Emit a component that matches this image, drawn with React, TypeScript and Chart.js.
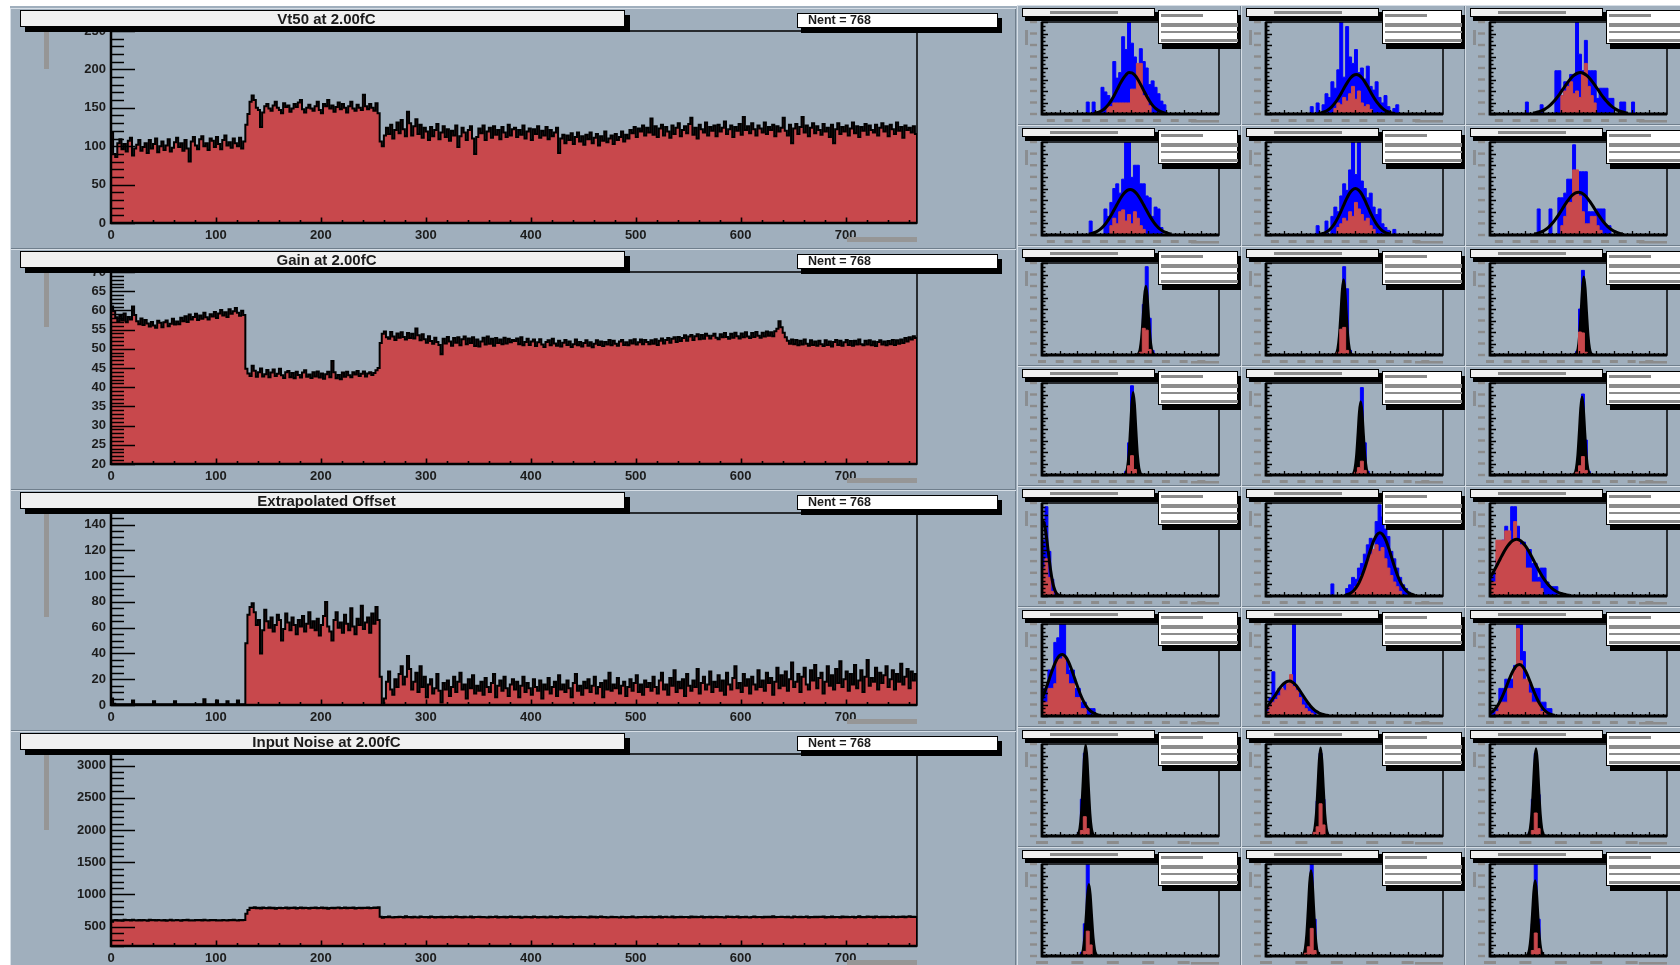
import React, { useEffect, useRef } from "react";
import { Chart, registerables } from "chart.js";

Chart.register(...registerables);

// ---------------- colours / fonts ----------------
const PAD_BG = "#A0AFBD";
const HIST_RED = "#C8484C";
const HIST_BLUE = "#0000FF";
const BLOB_GREY = "#8C8C8C";
const TITLE_GREY = "#969696";
const FONT = '"Liberation Sans", Arial, Helvetica, sans-serif';

// ---------------- big panels (768 channels, 2 channels per bin) ----------------
const CHANNELS_PER_BIN = 2;
const N_CHANNELS = 768;
const bigXTickLabels = [0, 100, 200, 300, 400, 500, 600, 700];
const bigTitles = ["Vt50 at 2.00fC", "Gain at 2.00fC", "Extrapolated Offset", "Input Noise at 2.00fC"];
const nentLabel = "Nent = 768";

const vt50Values = [
  118, 90, 86, 104, 109, 96, 103, 93, 107, 111, 88, 97, 102, 108, 94, 99, 104, 91, 108, 97, 103, 110, 92, 100, 106, 95, 101, 109, 93, 98, 105, 111,
  99, 104, 94, 108, 97, 80, 106, 112, 101, 96, 109, 113, 100, 104, 95, 110, 107, 99, 112, 103, 96, 108, 114, 101, 105, 98, 110, 104, 100, 111, 97, 106,
  128, 142, 158, 166, 160, 150, 147, 125, 144, 152, 155, 149, 146, 153, 158, 150, 147, 143, 156, 151, 153, 145, 149, 155, 151, 157, 160, 148, 144, 150, 154, 149,
  146, 152, 158, 147, 143, 155, 152, 160, 149, 153, 145, 151, 157, 148, 155, 150, 144, 152, 158, 149, 146, 154, 150, 147, 167, 152, 148, 155, 150, 146, 156, 143,
  106, 100, 114, 124, 116, 128, 110, 121, 131, 117, 134, 122, 113, 145, 130, 114, 126, 135, 116, 128, 111, 124, 119, 108, 125, 113, 121, 129, 109, 118, 126, 112,
  122, 107, 120, 114, 127, 99, 113, 124, 118, 108, 121, 126, 110, 90, 112, 123, 117, 127, 108, 119, 124, 111, 126, 115, 121, 109, 125, 118, 112, 128, 114, 122,
  124, 112, 121, 115, 127, 110, 119, 123, 108, 122, 116, 126, 111, 120, 114, 125, 109, 121, 113, 118, 124, 91, 110, 115, 104, 114, 108, 117, 103, 112, 118, 106,
  113, 102, 115, 109, 118, 104, 111, 116, 101, 113, 107, 119, 105, 110, 114, 103, 116, 108, 112, 119, 106, 115, 110, 121, 117, 125, 112, 123, 119, 127, 114, 124,
  118, 136, 115, 126, 112, 123, 128, 114, 125, 119, 111, 127, 116, 124, 130, 113, 121, 126, 117, 129, 137, 115, 124, 110, 128, 122, 118, 131, 114, 125, 120, 127,
  113, 128, 119, 124, 132, 116, 122, 127, 112, 125, 120, 129, 115, 138, 121, 126, 117, 130, 122, 114, 127, 123, 118, 131, 116, 125, 121, 128, 113, 126, 119, 124,
  137, 120, 114, 128, 104, 123, 129, 116, 125, 138, 118, 127, 113, 124, 130, 117, 126, 121, 115, 129, 119, 124, 112, 128, 104, 122, 130, 116, 125, 119, 127, 114,
  123, 131, 117, 126, 112, 125, 120, 129, 115, 127, 121, 118, 128, 114, 124, 130, 119, 126, 113, 128, 122, 116, 131, 120, 125, 111, 127, 121, 124, 118, 126, 116,
];
const gainValues = [
  61, 59.8, 58.2, 57.1, 58.6, 57.4, 59.2, 56.9, 58.3, 57.6, 61, 58.8, 57.2, 56.4, 57.9, 56.2, 57.5, 56.6, 55.8, 57.0, 56.1, 55.5, 57.3, 56.8, 55.6, 56.9, 57.4, 55.9, 56.5, 57.8, 56.3, 57.1,
  56.4, 58.1, 57.2, 58.5, 57.0, 58.9, 57.6, 58.3, 59.1, 57.5, 58.7, 57.8, 59.4, 58.2, 57.6, 59.0, 58.4, 59.6, 58.0, 59.2, 60.1, 58.7, 59.5, 58.3, 60.3, 59.1, 59.8, 60.6, 59.4, 58.6, 59.9, 58.8,
  44.8, 43.6, 42.9, 45.6, 44.3, 42.7, 43.9, 44.9, 42.8, 43.4, 44.5, 42.6, 43.8, 44.6, 42.9, 43.5, 44.8, 43.1, 42.4, 43.9, 44.2, 42.6, 43.7, 42.3, 44.0, 43.2, 42.5, 43.8, 44.4, 42.7, 43.3, 42.4,
  43.9, 42.8, 44.1, 42.5, 43.6, 42.2, 43.4, 44.0, 42.6, 46.8, 43.9, 42.3, 43.2, 42.1, 43.8, 42.7, 44.0, 43.1, 42.6, 43.9, 43.3, 44.2, 42.9, 43.5, 44.1, 42.8, 43.6, 43.9, 43.2, 43.7, 44.4, 45.0,
  51.5, 53.9, 54.5, 53.0, 52.6, 54.4, 53.2, 52.3, 54.0, 52.9, 54.3, 53.1, 52.4, 54.1, 52.8, 53.9, 52.7, 55.3, 53.5, 52.2, 53.8, 52.5, 51.6, 53.3, 52.0, 51.3, 52.9, 51.8, 51.0, 48.6, 52.6, 51.4,
  53.1, 51.9, 50.8, 52.8, 51.6, 53.0, 50.9, 52.5, 53.2, 51.2, 52.7, 51.5, 53.0, 50.7, 52.4, 50.6, 51.9, 52.9, 51.1, 53.2, 51.3, 52.6, 50.8, 52.8, 51.5, 52.4, 51.2, 52.9, 51.4, 52.6, 51.7, 52.3,
  52.0, 52.7, 51.2, 53.0, 50.9, 51.8, 52.6, 51.0, 51.9, 52.4, 50.7, 51.7, 52.5, 51.1, 50.5, 51.8, 52.2, 50.9, 52.6, 51.4, 50.8, 52.1, 50.6, 51.6, 52.3, 51.0, 51.9, 50.5, 51.2, 52.4, 50.9, 51.8,
  50.6, 51.5, 52.2, 50.8, 51.7, 50.4, 51.3, 52.2, 51.0, 51.9, 50.7, 51.8, 51.1, 52.3, 50.9, 52.1, 51.3, 50.8, 51.9, 52.3, 51.0, 51.7, 50.9, 52.2, 51.4, 52.5, 51.1, 51.7, 52.4, 51.2, 52.3, 51.8,
  51.2, 52.2, 51.3, 52.5, 51.0, 52.1, 52.7, 51.4, 52.3, 52.8, 51.6, 52.6, 53.0, 51.8, 53.1, 52.0, 52.8, 53.5, 52.1, 53.2, 53.6, 52.3, 53.3, 53.8, 52.5, 53.6, 52.6, 53.9, 53.4, 52.7, 53.4, 53.9,
  52.9, 52.5, 53.8, 53.0, 54.1, 53.1, 52.6, 53.9, 52.9, 54.2, 53.3, 52.7, 54.0, 53.0, 54.3, 53.2, 52.8, 54.1, 53.1, 54.4, 53.4, 52.9, 54.2, 53.2, 54.5, 53.4, 54.3, 53.3, 54.6, 55.2, 57.2, 55.6,
  54.2, 53.0, 52.1, 51.3, 52.4, 51.2, 52.3, 50.9, 52.1, 51.1, 52.4, 51.3, 50.8, 52.2, 51.0, 51.9, 50.8, 52.1, 51.2, 50.7, 52.2, 51.0, 51.9, 50.6, 51.8, 52.3, 51.0, 52.1, 50.8, 51.7, 52.3, 51.0,
  52.0, 50.8, 52.1, 51.1, 52.4, 51.2, 50.9, 52.1, 51.1, 52.2, 50.9, 51.9, 50.7, 51.8, 52.2, 51.1, 51.9, 50.9, 52.0, 51.2, 52.3, 51.0, 52.2, 51.3, 52.4, 51.5, 52.8, 51.9, 53.0, 52.4, 53.3, 52.8,
];
const offsetValues = [
  5, 1, 0.5, 0.5, 0.5, 0.5, 0.5, 0.5, 0.5, 0.5, 3.5, 0.5, 0.5, 0.5, 0.5, 0.5, 0.5, 0.5, 0.5, 0.5, 3, 0.5, 0.5, 0.5, 0.5, 0.5, 0.5, 0.5, 0.5, 0.5, 3, 0.5,
  0.5, 0.5, 0.5, 0.5, 0.5, 0.5, 0.5, 0.5, 0.5, 0.5, 0.5, 0.5, 4.5, 0.5, 0.5, 0.5, 0.5, 0.5, 3.5, 0.5, 0.5, 0.5, 0.5, 3, 0.5, 0.5, 0.5, 0.5, 3.5, 0.5, 0.5, 0.5,
  48, 70, 76, 79, 72, 62, 66, 40, 58, 74, 65, 60, 68, 57, 62, 70, 66, 50, 59, 71, 64, 58, 68, 62, 55, 66, 61, 69, 57, 63, 72, 60,
  65, 58, 67, 54, 62, 69, 80, 61, 57, 50, 66, 72, 60, 64, 56, 70, 63, 58, 75, 61, 55, 67, 62, 77, 59, 64, 68, 56, 71, 63, 76, 66,
  22, 0, 5, 18, 26, 12, 8, 20, 14, 24, 30, 16, 22, 38, 28, 12, 18, 25, 10, 30, 14, 22, 6, 16, 20, 9, 13, 24, 11, 2, 17, 12,
  19, 7, 14, 22, 10, 18, 25, 12, 16, 5, 20, 13, 23, 9, 15, 11, 18, 8, 21, 14, 10, 17, 24, 6, 15, 19, 11, 22, 13, 7, 16, 20,
  12, 18, 6, 15, 22, 10, 17, 13, 8, 20, 14, 11, 19, 5, 16, 12, 21, 9, 14, 18, 7, 23, 12, 16, 10, 19, 13, 6, 17, 24, 11, 15,
  8, 18, 13, 20, 10, 15, 22, 9, 14, 17, 6, 19, 12, 25, 11, 16, 13, 21, 9, 15, 18, 7, 14, 20, 11, 17, 23, 10, 16, 8, 19, 14,
  17, 11, 22, 14, 9, 19, 25, 12, 16, 8, 21, 15, 27, 10, 18, 13, 20, 7, 24, 15, 11, 19, 14, 28, 9, 17, 22, 12, 16, 26, 10, 18,
  14, 23, 11, 19, 8, 25, 16, 12, 21, 30, 13, 17, 10, 24, 15, 20, 9, 22, 16, 12, 27, 14, 19, 11, 25, 17, 21, 8, 18, 29, 13, 23,
  15, 26, 11, 20, 33, 14, 18, 24, 10, 22, 29, 16, 12, 27, 19, 31, 13, 21, 25, 9, 18, 30, 15, 23, 12, 28, 17, 34, 14, 20, 26, 11,
  24, 16, 31, 13, 19, 27, 10, 22, 35, 15, 21, 18, 29, 12, 25, 17, 23, 30, 14, 20, 27, 12, 24, 18, 32, 16, 22, 28, 13, 26, 19, 24,
];
const noiseValues = [
  575, 598, 604, 595, 601, 590, 606, 599, 603, 596, 608, 600, 594, 602, 597, 605, 600, 593, 607, 598, 602, 595, 604, 599, 596, 603, 590, 601, 606, 597, 600, 604,
  598, 592, 603, 600, 607, 596, 601, 594, 605, 599, 602, 596, 608, 600, 597, 603, 599, 605, 594, 601, 597, 604, 600, 596, 603, 598, 606, 601, 595, 602, 599, 604,
  700, 760, 795, 788, 800, 785, 792, 781, 796, 789, 784, 798, 787, 793, 780, 791, 795, 786, 790, 799, 783, 792, 788, 796, 782, 790, 797, 785, 793, 788, 781, 794,
  789, 796, 784, 791, 798, 786, 793, 780, 790, 795, 787, 792, 799, 784, 790, 796, 785, 793, 788, 797, 782, 791, 795, 786, 792, 789, 798, 784, 791, 796, 788, 800,
  655, 640, 652, 646, 658, 648, 643, 651, 645, 654, 649, 642, 660, 647, 652, 644, 653, 648, 641, 656, 650, 645, 651, 644, 659, 649, 643, 652, 646, 655, 641, 650,
  647, 654, 644, 651, 657, 646, 650, 642, 653, 648, 645, 656, 643, 651, 649, 654, 645, 652, 648, 641, 655, 647, 650, 658, 644, 651, 646, 653, 642, 649, 656, 648,
  651, 645, 653, 640, 648, 655, 646, 650, 643, 657, 649, 644, 652, 647, 654, 641, 648, 656, 645, 651, 643, 650, 658, 646, 652, 644, 649, 655, 642, 650, 647, 653,
  645, 651, 648, 642, 656, 647, 653, 644, 650, 659, 646, 651, 643, 648, 654, 645, 652, 647, 641, 655, 649, 644, 651, 646, 657, 648, 643, 652, 645, 650, 654, 647,
  649, 654, 643, 651, 646, 658, 644, 650, 653, 645, 648, 656, 642, 651, 647, 655, 646, 652, 649, 641, 657, 648, 653, 645, 650, 659, 644, 651, 647, 654, 643, 650,
  655, 646, 651, 648, 642, 657, 649, 653, 645, 650, 656, 643, 652, 647, 654, 648, 644, 651, 658, 646, 652, 649, 643, 655, 648, 653, 645, 660, 647, 651, 649, 654,
  652, 646, 655, 648, 643, 657, 650, 645, 654, 647, 651, 659, 644, 652, 648, 655, 646, 653, 649, 656, 643, 651, 647, 658, 645, 652, 650, 644, 657, 648, 653, 646,
  651, 655, 644, 650, 661, 647, 652, 645, 656, 649, 653, 643, 658, 650, 646, 654, 648, 655, 651, 645, 659, 650, 647, 654, 652, 657, 646, 653, 660, 649, 655, 651,
];

const vt50YTicks = [0, 50, 100, 150, 200, 250];
const gainYTicks = [20, 25, 30, 35, 40, 45, 50, 55, 60, 65, 70];
const offsetYTicks = [0, 20, 40, 60, 80, 100, 120, 140];
const noiseYTicks = [500, 1000, 1500, 2000, 2500, 3000];

const bigPanels = [
  { title: bigTitles[0], values: vt50Values, yMin: 0, yMax: 250, yTicks: vt50YTicks, yMajor: 50, yMinor: 10, yTitleLen: 38 },
  { title: bigTitles[1], values: gainValues, yMin: 20, yMax: 70, yTicks: gainYTicks, yMajor: 5, yMinor: 1, yTitleLen: 55 },
  { title: bigTitles[2], values: offsetValues, yMin: 0, yMax: 149, yTicks: offsetYTicks, yMajor: 20, yMinor: 5, yTitleLen: 104 },
  { title: bigTitles[3], values: noiseValues, yMin: 200, yMax: 3180, yTicks: noiseYTicks, yMajor: 500, yMinor: 100, yTitleLen: 76 },
];

// ---------------- small panels (60 bins, 0..100 height units) ----------------
const SMALL_BINS = 60;
// row 0
const r0c0Blue = [13, 0, 13, 0, 0, 29, 24, 20, 16, 57, 39, 45, 84, 70, 100, 77, 62, 52, 71, 57, 50, 32, 36, 29, 22, 14, 10];
const r0c0Red = [8, 8, 12, 12, 12, 12, 12, 12, 27, 27, 55, 55, 20, 20, 9];
const r0c0Fit = [0.7, 1.3, 2.4, 4.1, 6.7, 10.2, 14.8, 20.4, 26.7, 33, 38.5, 42.7, 45, 44.6, 42, 37.5, 31.7, 25.4, 19.3, 13.9, 9.4, 6.1, 3.7, 2.2, 1.2, 0.6];
const r0c1Blue = [8, 0, 12, 0, 10, 22, 18, 35, 28, 48, 100, 40, 95, 62, 55, 70, 45, 50, 38, 52, 30, 26, 35, 18, 12, 20, 8, 0, 6, 10];
const r0c1Red = [6, 12, 10, 18, 14, 22, 30, 16, 25, 12, 8, 10, 5];
const r0c1Fit = [0.6, 1.2, 2.2, 3.6, 5.8, 8.9, 12.8, 17.7, 23.2, 29, 34.4, 39, 42, 43, 42, 39, 34.4, 29, 23.2, 17.7, 12.8, 8.9, 5.8, 3.6, 2.2, 1.2, 0.6];
const r0c2Blue = [13, 0, 0, 0, 0, 10, 0, 0, 0, 0, 47, 47, 20, 35, 35, 43, 43, 100, 65, 47, 80, 47, 47, 47, 17, 28, 28, 28, 17, 17, 0, 0, 13, 13, 0, 0, 13];
const r0c2Red = [20, 25, 30, 35, 22, 25, 18, 45, 55, 30, 20, 12];
const r0c2Fit = [1.0, 1.6, 2.4, 3.6, 5.3, 7.5, 10.2, 13.5, 17.4, 21.7, 26.4, 31.1, 35.5, 39.4, 42.4, 44.3, 45, 44.3, 42.4, 39.4, 35.5, 31.1, 26.4, 21.7, 17.4, 13.5, 10.2, 7.5, 5.3, 3.6, 2.4, 1.6, 1.0];
// row 1
const r1c0Blue = [15, 0, 0, 0, 0, 28, 20, 35, 50, 55, 45, 60, 100, 100, 62, 75, 75, 55, 55, 42, 40, 20, 30, 28, 8];
const r1c0Red = [10, 18, 12, 25, 27, 15, 22, 12, 25, 18, 10, 6];
const r1c0Fit = [1.0, 1.7, 2.7, 4.4, 6.6, 9.7, 13.6, 18.4, 23.9, 29.7, 35.6, 40.9, 45.2, 48.0, 49, 48.0, 45.2, 40.9, 35.6, 29.7, 23.9, 18.4, 13.6, 9.7, 6.6, 4.4, 2.7, 1.7, 1.0];
const r1c1Blue = [10, 0, 0, 15, 0, 20, 30, 25, 42, 55, 48, 70, 100, 65, 100, 58, 50, 40, 45, 30, 22, 28, 12, 8, 5, 0, 6];
const r1c1Red = [8, 12, 18, 15, 25, 20, 35, 28, 22, 15, 18, 10, 6];
const r1c1Fit = [0.9, 1.6, 3.0, 5.0, 8.2, 12.5, 18.1, 24.7, 31.8, 38.8, 44.7, 48.6, 50, 48.6, 44.7, 38.8, 31.8, 24.7, 18.1, 12.5, 8.2, 5.0, 3.0, 1.6, 0.9];
const r1c2Blue = [28, 0, 0, 0, 28, 0, 0, 40, 40, 45, 60, 60, 97, 60, 68, 68, 68, 25, 25, 25, 28, 28, 28, 10, 10];
const r1c2Red = [10, 20, 35, 35, 70, 70, 42, 25, 12, 12, 20, 20, 10, 5];
const r1c2Fit = [1.1, 1.8, 2.8, 4.2, 6.2, 8.8, 12.1, 16.0, 20.5, 25.4, 30.5, 35.3, 39.7, 43.1, 45.3, 46, 45.3, 43.1, 39.7, 35.3, 30.5, 25.4, 20.5, 16.0, 12.1, 8.8, 6.2, 4.2, 2.8, 1.8, 1.1];
// row 2
const r2c0Blue = [4, 55, 96, 40, 5];
const r2c0Red = [3, 29, 27, 6];
const r2c0Fit = [0, 0.3, 1.6, 6.4, 18.7, 40.4, 64.3, 75, 64.3, 40.4, 18.7, 6.4, 1.6, 0.3, 0];
const r2c1Blue = [4, 30, 96, 72, 5];
const r2c1Red = [3, 28, 30, 5];
const r2c1Fit = [0, 0.3, 1.7, 7, 20.4, 44.2, 70.3, 82, 70.3, 44.2, 20.4, 7, 1.7, 0.3, 0];
const r2c2Blue = [4, 50, 92, 35, 4];
const r2c2Red = [25, 24, 3];
const r2c2Fit = [0, 0.3, 1.8, 7.2, 21.2, 45.8, 72.8, 85, 72.8, 45.8, 21.2, 7.2, 1.8, 0.3, 0];
// row 3
const r3c0Blue = [4, 35, 97, 40, 4];
const r3c0Red = [10, 21, 6];
const r3c0Fit = [0, 0.4, 1.9, 7.7, 22.4, 48.5, 77.1, 90, 77.1, 48.5, 22.4, 7.7, 1.9, 0.4, 0];
const r3c1Blue = [4, 38, 95, 35, 4];
const r3c1Red = [3, 8, 15, 5];
const r3c1Fit = [0, 0.3, 1.7, 6.8, 19.9, 43.1, 68.6, 80, 68.6, 43.1, 19.9, 6.8, 1.7, 0.3, 0];
const r3c2Blue = [4, 35, 88, 38, 4];
const r3c2Red = [3, 10, 20, 5];
const r3c2Fit = [0, 0.3, 1.8, 7.2, 21.2, 45.8, 72.8, 85, 72.8, 45.8, 21.2, 7.2, 1.8, 0.3, 0];
// row 4
const r4c0Blue = [60, 96, 48, 18, 4];
const r4c0Red = [30, 40, 20, 5];
const r4c0Fit = [79, 80, 74, 64, 51, 38, 26, 16.5, 9.7, 5.3, 2.6, 1.2, 0.6, 0.2, 0.1];
const r4c1Blue = [13, 0, 0, 0, 0, 8, 12, 20, 18, 30, 35, 45, 55, 62, 50, 80, 98, 85, 72, 64, 48, 40, 30, 20, 12, 8, 4];
const r4c1Red = [5, 10, 15, 22, 30, 38, 45, 50, 55, 48, 52, 40, 30, 22, 15, 10, 5];
const r4c1Fit = [0.7, 1.6, 3.0, 5.4, 9.2, 14.7, 22.1, 31.1, 41.3, 51.3, 60.0, 65.9, 68, 65.9, 60.0, 51.3, 41.3, 31.1, 22.1, 14.7, 9.2, 5.4, 3.0, 1.6, 0.7];
const r4c2Blue = [20, 25, 40, 55, 60, 75, 62, 96, 96, 75, 58, 58, 50, 50, 35, 35, 20, 30, 30, 15, 10, 10, 10];
const r4c2Red = [15, 15, 60, 60, 60, 70, 70, 60, 80, 60, 55, 55, 30, 30, 15, 15, 15, 8];
const r4c2Fit = [19.8, 25.1, 30.9, 37.0, 43.1, 48.9, 53.8, 57.7, 60.1, 61, 60.1, 57.7, 53.8, 48.9, 43.1, 37.0, 30.9, 25.1, 19.8, 15.2, 11.3, 8.2, 5.9, 4.0, 2.7, 1.8, 1.1, 0.7];
// row 5
const r5c0Blue = [30, 30, 50, 50, 80, 85, 100, 100, 60, 50, 50, 30, 30, 15, 15, 8, 8, 8];
const r5c0Red = [15, 15, 30, 30, 35, 62, 62, 65, 45, 35, 35, 20, 20, 8, 8];
const r5c0Fit = [19.2, 27, 35.9, 45.4, 54.2, 61.4, 65.8, 66.9, 64.4, 58.8, 50.8, 41.6, 32.3, 23.7, 16.5, 10.9, 6.8, 4.0, 2.3, 1.2, 0.6];
const r5c1Blue = [10, 20, 48, 25, 30, 22, 35, 28, 40, 100, 30, 25, 20, 15, 10, 8, 5];
const r5c1Red = [5, 12, 15, 18, 22, 30, 28, 35, 45, 32, 28, 20, 12, 8, 5, 3];
const r5c1Fit = [9.0, 12.7, 17.2, 22.0, 27.0, 31.6, 35.2, 37.4, 38, 36.7, 33.9, 29.8, 25.0, 20.1, 15.3, 11.2, 7.7, 5.1, 3.2, 1.9, 1.1, 0.6];
const r5c2Blue = [5, 5, 8, 30, 30, 40, 40, 40, 55, 100, 100, 70, 35, 35, 30, 30, 30, 15, 15, 8, 8];
const r5c2Red = [5, 15, 15, 15, 30, 30, 50, 95, 60, 40, 40, 25, 15, 15, 15, 5, 5];
const r5c2Fit = [3.0, 5.3, 8.7, 13.6, 19.9, 27.4, 35.6, 43.6, 50.3, 54.7, 56, 54.0, 49.1, 42.1, 33.9, 25.8, 18.5, 12.5, 8.0, 4.8, 2.7, 1.4, 0.7];
// row 6
const r6c0Blue = [4, 40, 90, 50, 4];
const r6c0Red = [6, 21, 8];
const r6c0Fit = [0, 0.4, 2.1, 8.4, 24.7, 53.4, 84.8, 99, 84.8, 53.4, 24.7, 8.4, 2.1, 0.4, 0];
const r6c1Blue = [4, 38, 90, 40, 4];
const r6c1Red = [4, 10, 35, 12];
const r6c1Fit = [0, 0.4, 2, 8.2, 23.9, 51.7, 82.3, 96, 82.3, 51.7, 23.9, 8.2, 2, 0.4, 0];
const r6c2Blue = [4, 40, 90, 45, 4];
const r6c2Red = [6, 25, 8];
const r6c2Fit = [0, 0.4, 2, 8.1, 23.7, 51.2, 81.4, 95, 81.4, 51.2, 23.7, 8.1, 2, 0.4, 0];
// row 7
const r7c0Blue = [4, 35, 100, 45, 4];
const r7c0Red = [5, 27, 12];
const r7c0Fit = [0, 0.3, 1.6, 6.6, 19.4, 42, 66.8, 78, 66.8, 42, 19.4, 6.6, 1.6, 0.3, 0];
const r7c1Blue = [4, 35, 100, 40, 4];
const r7c1Red = [3, 10, 30, 6];
const r7c1Fit = [0, 0.4, 2, 7.9, 23.2, 50.1, 79.7, 93, 79.7, 50.1, 23.2, 7.9, 2, 0.4, 0];
const r7c2Blue = [4, 35, 100, 40, 4];
const r7c2Red = [6, 25, 8];
const r7c2Fit = [0, 0.3, 1.7, 7, 20.4, 44.2, 70.3, 82, 70.3, 44.2, 20.4, 7, 1.7, 0.3, 0];

// first-bin offsets for each small histogram, fit sampling start / step, narrow-peak flag
const smallPanels = [
  { blue: r0c0Blue, blueStart: 15, red: r0c0Red, redStart: 22, fit: r0c0Fit, fitStart: 17.5, fitStep: 1, narrow: false },
  { blue: r0c1Blue, blueStart: 15, red: r0c1Red, redStart: 23, fit: r0c1Fit, fitStart: 17.6, fitStep: 1, narrow: false },
  { blue: r0c2Blue, blueStart: 12, red: r0c2Red, redStart: 24, fit: r0c2Fit, fitStart: 14.6, fitStep: 1, narrow: false },
  { blue: r1c0Blue, blueStart: 16, red: r1c0Red, redStart: 23, fit: r1c0Fit, fitStart: 15.9, fitStep: 1, narrow: false },
  { blue: r1c1Blue, blueStart: 17, red: r1c1Red, redStart: 24, fit: r1c1Fit, fitStart: 18.3, fitStep: 1, narrow: false },
  { blue: r1c2Blue, blueStart: 16, red: r1c2Red, redStart: 24, fit: r1c2Fit, fitStart: 15, fitStep: 1, narrow: false },
  { blue: r2c0Blue, blueStart: 33, red: r2c0Red, redStart: 33, fit: r2c0Fit, fitStart: 31.7, fitStep: 0.5, narrow: true },
  { blue: r2c1Blue, blueStart: 24, red: r2c1Red, redStart: 24, fit: r2c1Fit, fitStart: 22.8, fitStep: 0.5, narrow: true },
  { blue: r2c2Blue, blueStart: 29, red: r2c2Red, redStart: 30, fit: r2c2Fit, fitStart: 28.3, fitStep: 0.5, narrow: true },
  { blue: r3c0Blue, blueStart: 28, red: r3c0Red, redStart: 29, fit: r3c0Fit, fitStart: 27.4, fitStep: 0.5, narrow: true },
  { blue: r3c1Blue, blueStart: 30, red: r3c1Red, redStart: 30, fit: r3c1Fit, fitStart: 28.6, fitStep: 0.5, narrow: true },
  { blue: r3c2Blue, blueStart: 29, red: r3c2Red, redStart: 29, fit: r3c2Fit, fitStart: 27.7, fitStep: 0.5, narrow: true },
  { blue: r4c0Blue, blueStart: 0, red: r4c0Red, redStart: 0, fit: r4c0Fit, fitStart: 0, fitStep: 0.5, narrow: false },
  { blue: r4c1Blue, blueStart: 22, red: r4c1Red, redStart: 29, fit: r4c1Fit, fitStart: 26.6, fitStep: 1, narrow: false },
  { blue: r4c2Blue, blueStart: 0, red: r4c2Red, redStart: 0, fit: r4c2Fit, fitStart: 0, fitStep: 1, narrow: false },
  { blue: r5c0Blue, blueStart: 0, red: r5c0Red, redStart: 0, fit: r5c0Fit, fitStart: 0, fitStep: 1, narrow: false },
  { blue: r5c1Blue, blueStart: 0, red: r5c1Red, redStart: 0, fit: r5c1Fit, fitStart: 0, fitStep: 1, narrow: false },
  { blue: r5c2Blue, blueStart: 0, red: r5c2Red, redStart: 2, fit: r5c2Fit, fitStart: 0, fitStep: 1, narrow: false },
  { blue: r6c0Blue, blueStart: 12, red: r6c0Red, redStart: 13, fit: r6c0Fit, fitStart: 11.3, fitStep: 0.5, narrow: true },
  { blue: r6c1Blue, blueStart: 16, red: r6c1Red, redStart: 16, fit: r6c1Fit, fitStart: 15, fitStep: 0.5, narrow: true },
  { blue: r6c2Blue, blueStart: 13, red: r6c2Red, redStart: 14, fit: r6c2Fit, fitStart: 12.1, fitStep: 0.5, narrow: true },
  { blue: r7c0Blue, blueStart: 13, red: r7c0Red, redStart: 14, fit: r7c0Fit, fitStart: 12.4, fitStep: 0.5, narrow: true },
  { blue: r7c1Blue, blueStart: 13, red: r7c1Red, redStart: 13, fit: r7c1Fit, fitStart: 11.75, fitStep: 0.5, narrow: true },
  { blue: r7c2Blue, blueStart: 13, red: r7c2Red, redStart: 14, fit: r7c2Fit, fitStart: 11.8, fitStep: 0.5, narrow: true },
];

// ---------------- helpers ----------------
function stepPoints(values: number[], start: number, width: number, base: number) {
  const pts: { x: number; y: number }[] = [{ x: start, y: base }];
  values.forEach((v, i) => pts.push({ x: start + i * width, y: v }));
  pts.push({ x: start + values.length * width, y: base });
  return pts;
}
function curvePoints(values: number[], start: number, step: number) {
  return values.map((v, i) => ({ x: start + i * step, y: v }));
}

const commonOptions = {
  animation: false,
  responsive: false,
  maintainAspectRatio: false,
  devicePixelRatio: 1,
  events: [],
  plugins: { legend: { display: false }, tooltip: { enabled: false }, title: { display: false } },
  elements: { point: { radius: 0 } },
};

function makeBigAxesPlugin(p: any) {
  return {
    id: "rootBigAxes",
    afterDraw(chart: any) {
      const { ctx, chartArea: a } = chart;
      const xs = chart.scales.x;
      const ys = chart.scales.y;
      ctx.save();
      ctx.strokeStyle = "#000";
      ctx.lineWidth = 1.6;
      ctx.beginPath();
      const first = Math.ceil(p.yMin / p.yMinor - 1e-9);
      const last = Math.floor(p.yMax / p.yMinor + 1e-9);
      for (let k = first; k <= last; k++) {
        const v = k * p.yMinor;
        const r = v / p.yMajor;
        const isMajor = Math.abs(r - Math.round(r)) < 1e-6;
        const py = Math.round(ys.getPixelForValue(v)) + 0.5;
        ctx.moveTo(a.left, py);
        ctx.lineTo(a.left + (isMajor ? 24 : 13), py);
      }
      for (let c = 20; c < N_CHANNELS; c += 20) {
        const px = Math.round(xs.getPixelForValue(c)) + 0.5;
        ctx.moveTo(px, a.bottom);
        ctx.lineTo(px, a.bottom - (c % 100 === 0 ? 5.5 : 3));
      }
      ctx.stroke();
      ctx.lineWidth = 1.5;
      ctx.strokeRect(a.left, a.top, a.right - a.left, a.bottom - a.top);
      ctx.lineWidth = 2.5;
      ctx.beginPath();
      ctx.moveTo(a.left, a.top);
      ctx.lineTo(a.left, a.bottom);
      ctx.lineTo(a.right, a.bottom);
      ctx.stroke();
      ctx.fillStyle = "#1c1c1c";
      ctx.font = `bold 13px ${FONT}`;
      ctx.textAlign = "right";
      ctx.textBaseline = "middle";
      p.yTicks.forEach((v: number) => ctx.fillText(String(v), a.left - 5, ys.getPixelForValue(v)));
      ctx.textAlign = "center";
      bigXTickLabels.forEach((v) => ctx.fillText(String(v), xs.getPixelForValue(v), a.bottom + 12.5));
      ctx.fillStyle = TITLE_GREY;
      ctx.fillRect(34, 23, 5, p.yTitleLen);
      ctx.fillRect(a.right - 70, a.bottom + 14, 70, 5);
      ctx.restore();
    },
  };
}

function makeSmallAxesPlugin(row: number) {
  return {
    id: "rootSmallAxes",
    afterDraw(chart: any) {
      const { ctx, chartArea: a } = chart;
      const xs = chart.scales.x;
      const ys = chart.scales.y;
      ctx.save();
      ctx.fillStyle = BLOB_GREY;
      for (let k = 0; k <= 8; k++) {
        const py = ys.getPixelForValue(k * 12.5);
        ctx.fillRect(a.left - 12, py - 1.2, 7, 2.4);
      }
      const lblStep = row >= 6 ? 12 : 6;
      const lblStart = row <= 1 ? 3 : 0;
      const lblW = row >= 6 ? 12 : 8;
      for (let b = lblStart; b < SMALL_BINS - 4; b += lblStep) {
        const px = xs.getPixelForValue(b);
        ctx.fillRect(px - lblW / 2, a.bottom + 5, lblW, 3);
      }
      ctx.fillRect(a.right - 28, a.bottom + 6, 28, 2.5);
      ctx.strokeStyle = "#000";
      ctx.lineWidth = 1.3;
      ctx.beginPath();
      for (let k = 0; k <= 24; k++) {
        const py = Math.round(ys.getPixelForValue((k * 100) / 24)) + 0.5;
        ctx.moveTo(a.left, py);
        ctx.lineTo(a.left + (k % 3 === 0 ? 6 : 3.5), py);
      }
      for (let k = 1; k < 40; k++) {
        const px = Math.round(xs.getPixelForValue(k * 1.5)) + 0.5;
        ctx.moveTo(px, a.bottom);
        ctx.lineTo(px, a.bottom - (k % 4 === 0 ? 4 : 2));
      }
      ctx.stroke();
      ctx.lineWidth = 1.5;
      ctx.strokeRect(a.left, a.top, a.right - a.left, a.bottom - a.top);
      ctx.lineWidth = 2.8;
      ctx.beginPath();
      ctx.moveTo(a.left, a.top);
      ctx.lineTo(a.left, a.bottom);
      ctx.lineTo(a.right, a.bottom);
      ctx.stroke();
      ctx.restore();
    },
  };
}

function buildBigConfig(p: any) {
  return {
    type: "line",
    data: {
      datasets: [
        {
          data: stepPoints(p.values, 0, CHANNELS_PER_BIN, p.yMin),
          stepped: true,
          fill: "start",
          backgroundColor: HIST_RED,
          borderColor: "#000",
          borderWidth: 2,
          borderJoinStyle: "miter",
          pointRadius: 0,
        },
      ],
    },
    options: {
      ...commonOptions,
      layout: { padding: { left: 101, right: 99, top: 23, bottom: 26 } },
      scales: {
        x: { type: "linear", display: false, min: 0, max: N_CHANNELS },
        y: { type: "linear", display: false, min: p.yMin, max: p.yMax },
      },
    },
    plugins: [makeBigAxesPlugin(p)],
  };
}

function buildSmallConfig(s: any, row: number) {
  const fitSet = {
    data: curvePoints(s.fit, s.fitStart, s.fitStep),
    borderColor: "#000",
    backgroundColor: "#000",
    borderWidth: s.narrow ? 2.5 : 3,
    fill: s.narrow ? "start" : false,
    cubicInterpolationMode: "monotone",
    pointRadius: 0,
  };
  const redSet = {
    data: stepPoints(s.red, s.redStart, 1, 0),
    stepped: true,
    fill: "start",
    backgroundColor: HIST_RED,
    borderColor: HIST_RED,
    borderWidth: 1,
    pointRadius: 0,
  };
  const blueSet = {
    data: stepPoints(s.blue, s.blueStart, 1, 0),
    stepped: true,
    fill: "start",
    backgroundColor: HIST_BLUE,
    borderColor: HIST_BLUE,
    borderWidth: 1,
    pointRadius: 0,
  };
  // first dataset is drawn on top
  const datasets = s.narrow ? [redSet, fitSet, blueSet] : [fitSet, redSet, blueSet];
  return {
    type: "line",
    data: { datasets },
    options: {
      ...commonOptions,
      layout: { padding: { left: 25, right: 22, top: 17, bottom: 11 } },
      scales: {
        x: { type: "linear", display: false, min: 0, max: SMALL_BINS },
        y: { type: "linear", display: false, min: 0, max: 100 },
      },
    },
    plugins: [makeSmallAxesPlugin(row)],
  };
}

// ---------------- components ----------------
function ChartCanvas({ width, height, build }: { width: number; height: number; build: () => any }) {
  const ref = useRef<HTMLCanvasElement | null>(null);
  useEffect(() => {
    if (!ref.current) return;
    const chart = new Chart(ref.current, build());
    return () => chart.destroy();
  }, []);
  return (
    <canvas
      ref={ref}
      width={width}
      height={height}
      style={{ position: "absolute", left: 0, top: 0, width, height }}
    />
  );
}

const bevel = "inset 1px 1px 0 #D6DEE6, inset -1px -1px 0 #6F7E8C";

function BigPanel({ idx }: { idx: number }) {
  const p = bigPanels[idx];
  const top = 8 + 241 * idx;
  return (
    <div style={{ position: "absolute", left: 10, top, width: 1006, height: 241, background: PAD_BG, boxShadow: bevel }}>
      <ChartCanvas width={1006} height={241} build={() => buildBigConfig(p)} />
      <div
        style={{
          position: "absolute",
          left: 10,
          top: 1.5,
          width: 605,
          height: 17.5,
          boxSizing: "border-box",
          background: "#F0F0F0",
          border: "1px solid #000",
          boxShadow: "5px 5px 0 #000",
          font: `bold 15px ${FONT}`,
          lineHeight: "15px",
          textAlign: "center",
          color: "#1c1c1c",
          paddingLeft: 8,
          whiteSpace: "nowrap",
        }}
      >
        {p.title}
      </div>
      <div
        style={{
          position: "absolute",
          left: 787,
          top: 4.7,
          width: 201,
          height: 15.6,
          boxSizing: "border-box",
          background: "#FFFFFF",
          border: "1px solid #000",
          boxShadow: "4px 5px 0 #000",
          font: `bold 12.5px ${FONT}`,
          lineHeight: "13px",
          color: "#1c1c1c",
          paddingLeft: 10,
          whiteSpace: "nowrap",
        }}
      >
        {nentLabel}
      </div>
    </div>
  );
}

function SmallPanel({ idx }: { idx: number }) {
  const s = smallPanels[idx];
  const row = Math.floor(idx / 3);
  const col = idx % 3;
  const left = 1017 + col * 224;
  const top = Math.round(5 + row * 120.3);
  const nextTop = Math.round(5 + (row + 1) * 120.3);
  const h = nextTop - top;
  return (
    <div style={{ position: "absolute", left, top, width: 224, height: h, background: PAD_BG, boxShadow: bevel }}>
      <ChartCanvas width={224} height={h} build={() => buildSmallConfig(s, row)} />
      <div style={{ position: "absolute", left: 8, top: 25, width: 2.5, height: 15, background: "rgba(128,128,128,0.7)" }} />
      <div
        style={{
          position: "absolute",
          left: 5,
          top: 3,
          width: 133,
          height: 8.5,
          boxSizing: "border-box",
          background: "#EFEFEF",
          border: "1px solid #000",
          boxShadow: "3px 4px 0 #000",
        }}
      >
        <div style={{ position: "absolute", left: 27, top: 1.6, width: 68, height: 3.4, background: BLOB_GREY }} />
      </div>
      <div
        style={{
          position: "absolute",
          left: 141,
          top: 5,
          width: 80,
          height: 34,
          boxSizing: "border-box",
          background: "#FFFFFF",
          border: "1.5px solid #000",
          boxShadow: "4px 5px 0 #000",
        }}
      >
        <div style={{ position: "absolute", left: 2, top: 3, width: 42, height: 3, background: BLOB_GREY }} />
        <div style={{ position: "absolute", left: 2, top: 11.5, width: 77, height: 4, background: BLOB_GREY }} />
        <div style={{ position: "absolute", left: 2, top: 19.5, width: 77, height: 2.5, background: BLOB_GREY }} />
        <div style={{ position: "absolute", left: 2, top: 27.5, width: 77, height: 3.5, background: BLOB_GREY }} />
      </div>
    </div>
  );
}

export default function App() {
  return (
    <div
      style={{
        position: "absolute",
        left: 0,
        top: 0,
        width: 1680,
        height: 965,
        overflow: "hidden",
        background: "#FFFFFF",
        fontFamily: FONT,
      }}
    >
      <div style={{ position: "absolute", left: 10, top: 6, width: 1670, height: 959, background: PAD_BG }} />
      {bigPanels.map((_, i) => (
        <BigPanel key={"b" + i} idx={i} />
      ))}
      {smallPanels.map((_, i) => (
        <SmallPanel key={"s" + i} idx={i} />
      ))}
    </div>
  );
}
